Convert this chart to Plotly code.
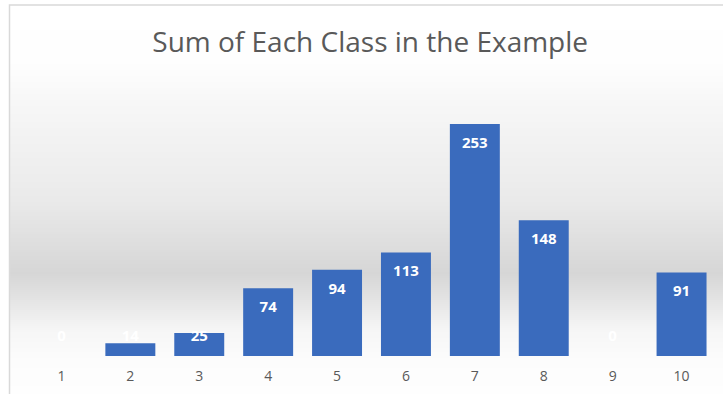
import plotly.graph_objects as go

categories = ["1", "2", "3", "4", "5", "6", "7", "8", "9", "10"]
values = [0, 14, 25, 74, 94, 113, 253, 148, 0, 91]
title_text = "Sum of Each Class in the Example"

W, H = 723, 394
ML, MR, MT, MB = 27, 7, 81, 38
plot_h = H - MT - MB
ymax = 300
px_per_unit = plot_h / ymax

def py_to_paper(p):
    return (H - MB - p) / plot_h

def px_to_paper(p):
    return (p - ML) / (W - ML - MR)

# background gradient stops (pixel y, gray level)
stops = [(0, 255), (60, 254), (110, 246), (200, 234), (273, 214), (300, 228), (330, 246), (360, 252), (394, 254)]

def gray_at(p):
    for (a, ga), (b, gb) in zip(stops[:-1], stops[1:]):
        if a <= p <= b:
            t = (p - a) / (b - a) if b > a else 0
            return round(ga + (gb - ga) * t)
    return 255

shapes = []
step = 2
for p in range(0, H, step):
    g = gray_at(p + step / 2)
    shapes.append(dict(type="rect", xref="paper", yref="paper",
                       x0=px_to_paper(9), x1=px_to_paper(W + 5),
                       y0=py_to_paper(p + step), y1=py_to_paper(p),
                       fillcolor=f"rgb({g},{g},{g})", line=dict(width=0), layer="below"))
# chart border
shapes.append(dict(type="rect", xref="paper", yref="paper",
                   x0=px_to_paper(9.5), x1=px_to_paper(W + 10),
                   y0=py_to_paper(H + 10), y1=py_to_paper(5),
                   fillcolor="rgba(0,0,0,0)", line=dict(color="#d9d9d9", width=1.5), layer="below"))

label_off = 20 / px_per_unit
label_min = 19 / px_per_unit
label_y = [max(v - label_off, label_min) for v in values]

fig = go.Figure()
fig.add_trace(go.Bar(x=categories, y=values, marker=dict(color="#3a6bbd", line=dict(width=0)),
                     hoverinfo="skip"))
fig.add_trace(go.Scatter(x=categories, y=label_y, mode="text", text=[str(v) for v in values],
                         textfont=dict(family="Open Sans", size=15, color="white", weight="bold"),
                         hoverinfo="skip"))

fig.update_layout(
    width=W, height=H,
    margin=dict(l=ML, r=MR, t=MT, b=MB),
    paper_bgcolor="white", plot_bgcolor="rgba(0,0,0,0)",
    showlegend=False,
    bargap=0.275,
    shapes=shapes,
    title=dict(text=title_text, x=0.512, xanchor="center", y=1 - 42 / H, yanchor="middle",
               yref="container", font=dict(family="Open Sans", size=28, color="#595959")),
    xaxis=dict(type="category", showgrid=False, zeroline=False, showline=False, ticks="",
               tickfont=dict(family="Open Sans", size=14, color="#595959"), ticklabelstandoff=10),
    yaxis=dict(range=[0, ymax], visible=False, showgrid=False),
)

fig.write_html("out.html")
